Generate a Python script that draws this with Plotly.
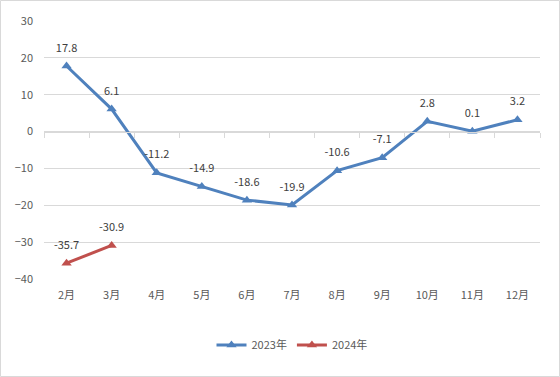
import plotly.graph_objects as go

months = ["2月", "3月", "4月", "5月", "6月", "7月", "8月", "9月", "10月", "11月", "12月"]
values_2023 = [17.8, 6.1, -11.2, -14.9, -18.6, -19.9, -10.6, -7.1, 2.8, 0.1, 3.2]
months_2024 = ["2月", "3月"]
values_2024 = [-35.7, -30.9]
y_ticks = [-40, -30, -20, -10, 0, 10, 20, 30]

FONT = "Noto Sans CJK SC, Liberation Sans, sans-serif"
BLUE = "#4F81BD"
RED = "#C0504D"
GRID = "#D9D9D9"
TXT = "#595959"

W, H = 560, 377
ML, MR, MT, MB = 44, 20, 21, 98
pw, ph = W - ML - MR, H - MT - MB

fig = go.Figure()
fig.add_trace(go.Scatter(
    x=months, y=values_2023, name="2023年", mode="lines+markers",
    line=dict(color=BLUE, width=3), marker=dict(symbol="triangle-up", size=9, color=BLUE)))
fig.add_trace(go.Scatter(
    x=months_2024, y=values_2024, name="2024年", mode="lines+markers",
    line=dict(color=RED, width=3), marker=dict(symbol="triangle-up", size=9, color=RED)))
# data labels (invisible larger markers push the labels upward)
for xs, ys in ((months, values_2023), (months_2024, values_2024)):
    fig.add_trace(go.Scatter(
        x=xs, y=ys, mode="markers+text", showlegend=False, hoverinfo="skip",
        marker=dict(size=17, color="rgba(0,0,0,0)"),
        text=[f"{v:.1f}" for v in ys], textposition="top center",
        textfont=dict(size=11, color="#404040", family=FONT), cliponaxis=False))
fig.add_trace(go.Scatter(x=months, y=[None] * len(months), xaxis="x2",
                         showlegend=False, hoverinfo="skip", mode="lines"))

zero_pos = (0 - y_ticks[0]) / (y_ticks[-1] - y_ticks[0])

fig.update_layout(
    width=W, height=H, margin=dict(l=ML, r=MR, t=MT, b=MB),
    paper_bgcolor="white", plot_bgcolor="white",
    font=dict(family=FONT, size=11, color=TXT),
    xaxis=dict(type="category", categoryarray=months, range=[-0.5, 10.5],
               showgrid=False, showline=False, ticks="", zeroline=False,
               tickfont=dict(size=11, color=TXT), ticklabelstandoff=8),
    xaxis2=dict(type="category", categoryarray=months, range=[-0.5, 10.5],
                overlaying="x", anchor="free", position=zero_pos, side="bottom",
                showline=True, linecolor=GRID, linewidth=1,
                ticks="outside", ticklen=5, tickcolor=GRID, tickson="boundaries",
                showticklabels=False, showgrid=False, zeroline=False),
    yaxis=dict(range=[-40, 30], tickvals=y_ticks, showgrid=True, gridcolor=GRID,
               gridwidth=1, zeroline=False, showline=False, ticks="",
               tickfont=dict(size=11, color=TXT), ticklabelstandoff=10),
    legend=dict(orientation="h", x=0.5, xanchor="center", y=-(345 - (MT + ph)) / ph,
                yanchor="middle", font=dict(size=11, color=TXT), itemwidth=30),
    showlegend=True,
    shapes=[dict(type="rect", xref="paper", yref="paper",
                 x0=-(ML - 0.5) / pw, x1=1 + (MR - 0.5) / pw,
                 y0=-(MB - 0.5) / ph, y1=1 + (MT - 0.5) / ph,
                 line=dict(color=GRID, width=1), layer="below")],
)

fig.write_html("out.html", config={"displayModeBar": False},
               post_script="document.body.style.margin='0';document.body.style.overflow='hidden';")
